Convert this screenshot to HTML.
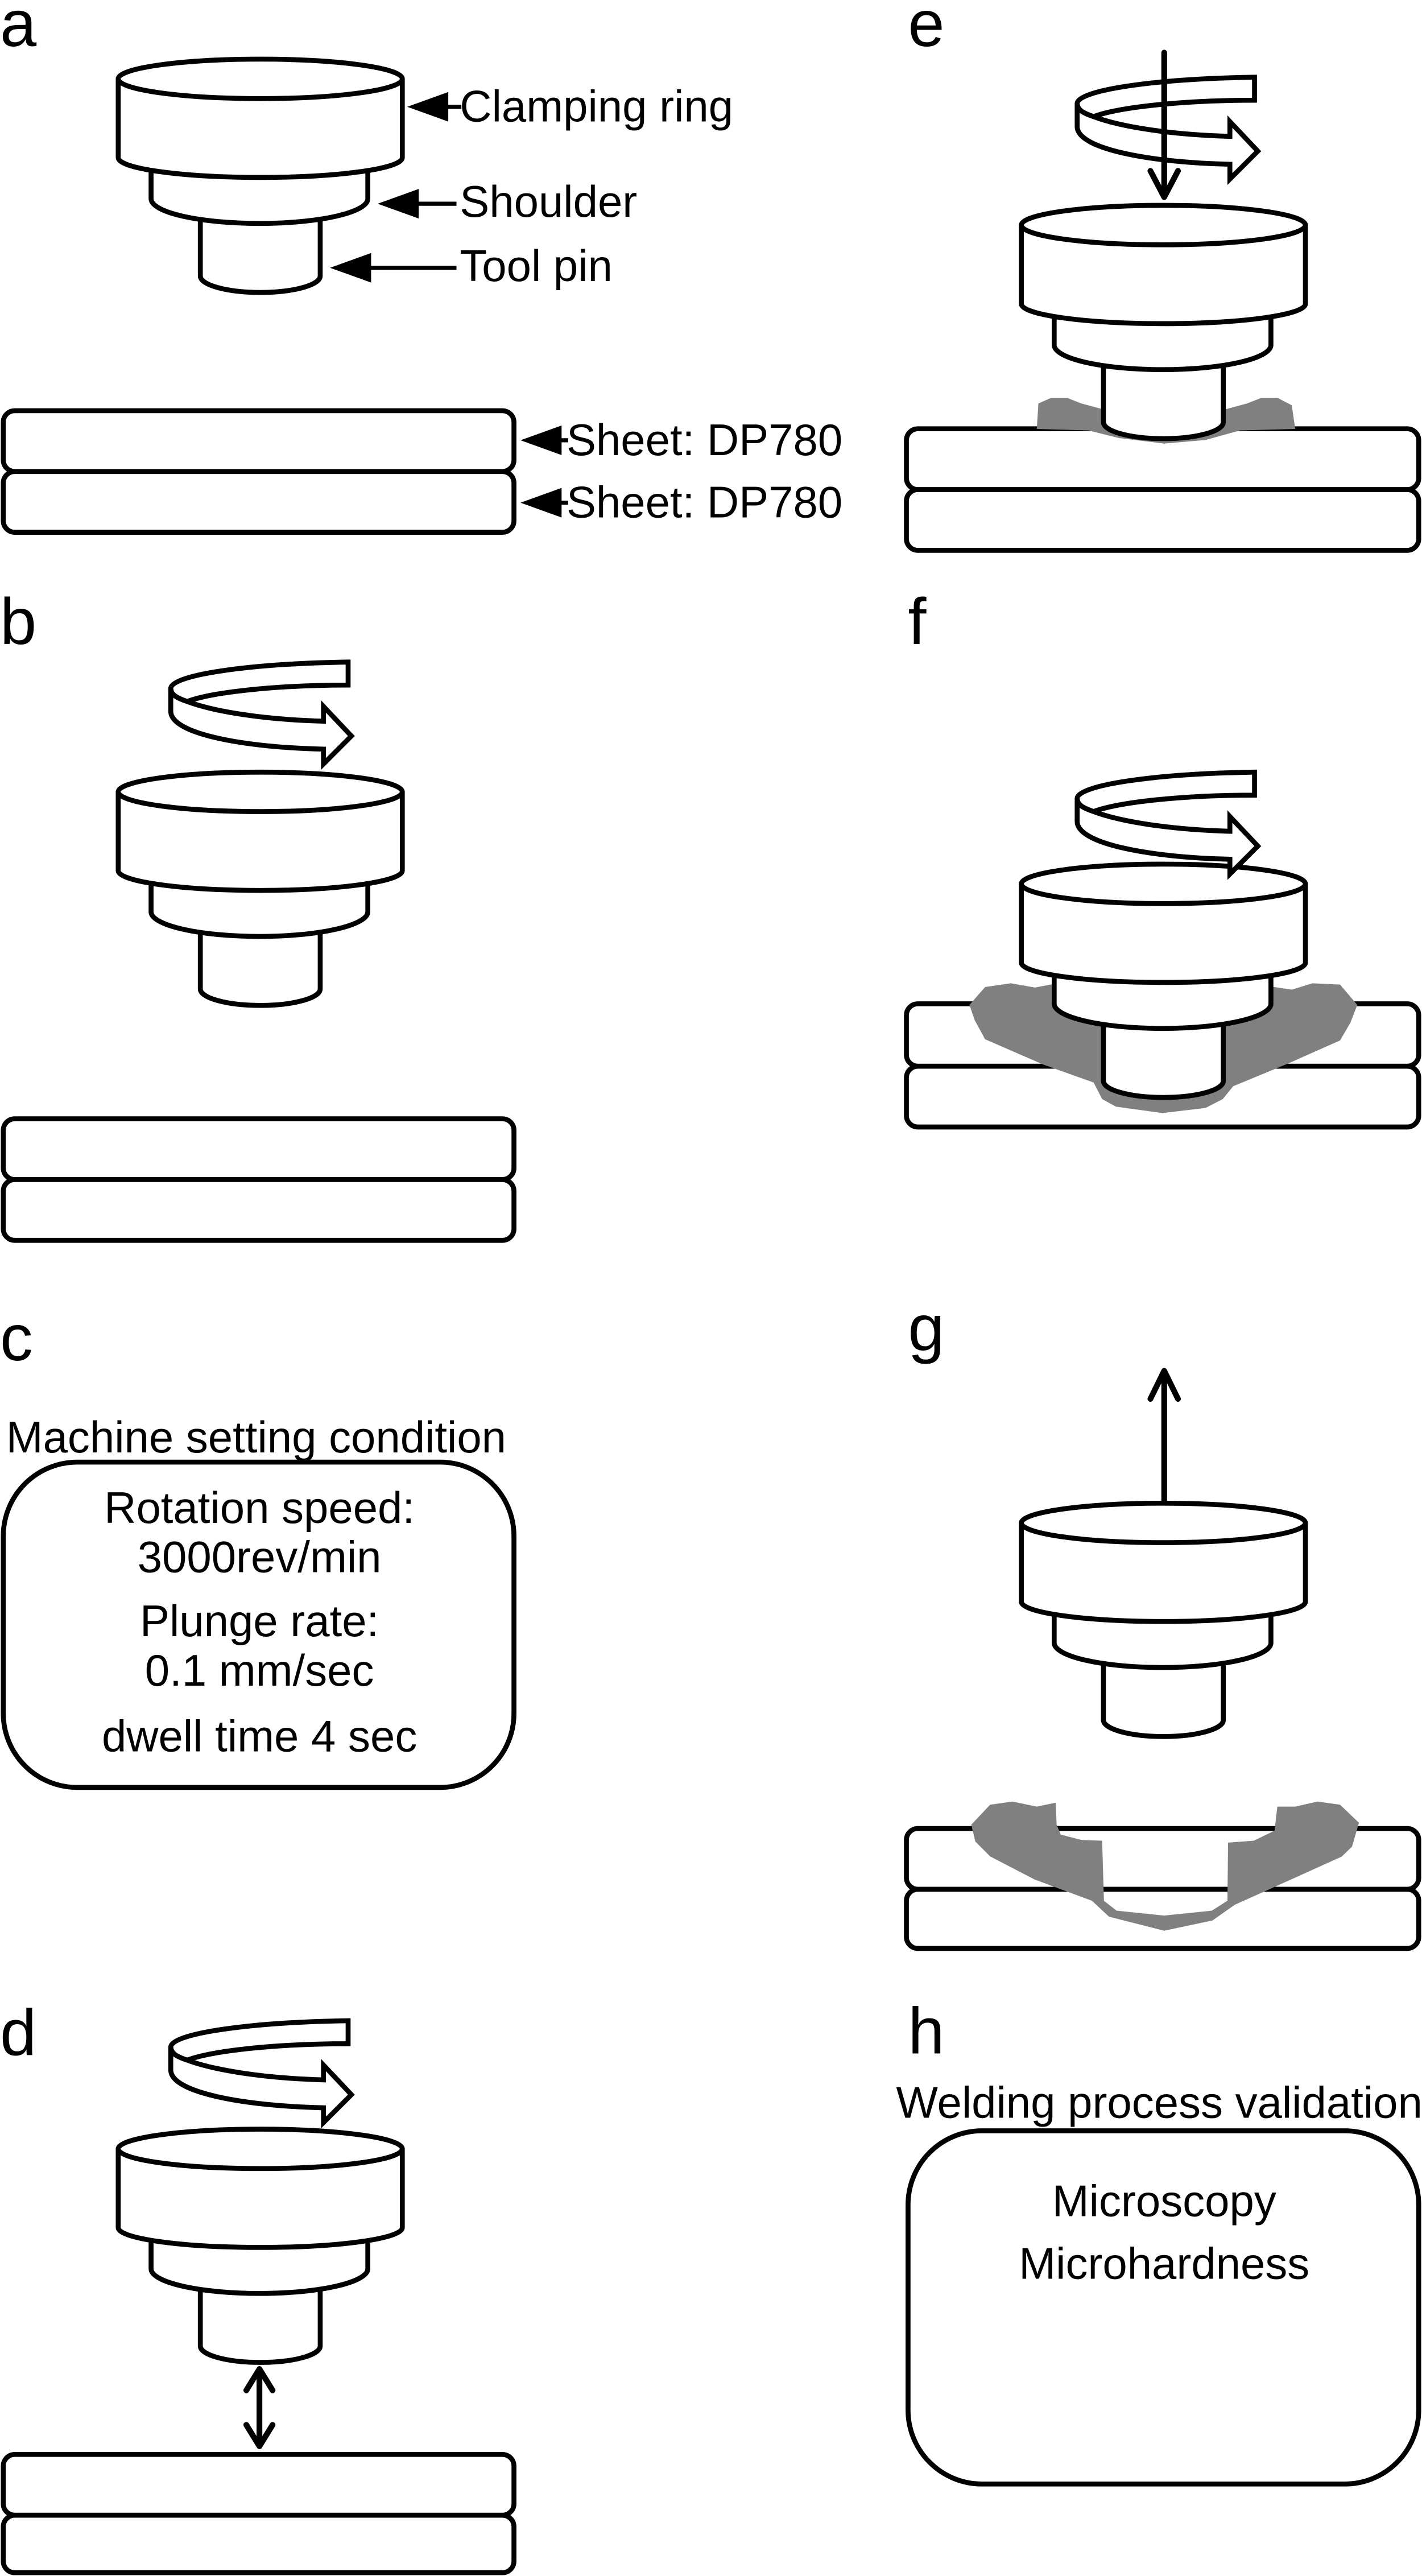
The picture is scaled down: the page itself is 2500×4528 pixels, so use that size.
<!DOCTYPE html>
<html><head><meta charset="utf-8"><style>
html,body{margin:0;padding:0;background:#fff;}
svg{display:block;}
text{font-family:"Liberation Sans",Arial,sans-serif;fill:#000;}
</style></head><body>
<svg xmlns="http://www.w3.org/2000/svg" width="2500" height="4528" viewBox="0 0 866 1568" preserveAspectRatio="none">
<defs>
<g id="tool" fill="#fff" stroke="#000" stroke-width="3" stroke-linejoin="round">
  <path d="M122,80 L122,120 A36.5,10 0 0 0 195,120 L195,80 Z"/>
  <path d="M92,50 L92,73 A66,15 0 0 0 224,73 L224,50 Z"/>
  <path d="M72,0 L72,48 A86.5,12 0 0 0 245,48 L245,0 Z"/>
  <ellipse cx="158.5" cy="0" rx="86.5" ry="12"/>
</g>
<g id="rot" fill="#fff" stroke="#000" stroke-width="3" stroke-linejoin="miter">
  <path d="M212,0 C150,1 104,8 104,16 C104,20 108,22 114,24 C130,18 170,14 212,14 Z"/>
  <path d="M104,16 C104,20 108,22 114,24 C130,30 160,35 197,36 L197,27 L214,45 L197,62 L197,53 C150,52 104,44 104,30 Z"/>
</g>
</defs>

<g font-size="40">
<text x="0" y="28">a</text>
<text x="0" y="392">b</text>
<text x="0" y="828">c</text>
<text x="0" y="1251">d</text>
<text x="553" y="28">e</text>
<text x="553" y="392">f</text>
<text x="553" y="822">g</text>
<text x="553" y="1250">h</text>
</g>

<g fill="#fff" stroke="#000" stroke-width="3">
<rect x="2" y="250" width="311" height="37" rx="7"/>
<rect x="2" y="287" width="311" height="37" rx="7"/>
<rect x="2" y="681" width="311" height="37" rx="7"/>
<rect x="2" y="718" width="311" height="37" rx="7"/>
<rect x="2" y="1494" width="311" height="37" rx="7"/>
<rect x="2" y="1531" width="311" height="35" rx="7"/>
<rect x="552" y="261" width="312" height="37" rx="7"/>
<rect x="552" y="298" width="312" height="37" rx="7"/>
<rect x="552" y="611" width="312" height="38" rx="7"/>
<rect x="552" y="649" width="312" height="37" rx="7"/>
<rect x="552" y="1113" width="312" height="37" rx="7"/>
<rect x="552" y="1150" width="312" height="36" rx="7"/>
</g>

<g fill="#808080">
<polygon points="631.4,261.1 632.4,245.6 639.8,242.3 650.2,242.3 658.6,245.6 671.2,249 746.8,249 759.4,245.6 767.8,242.3 778.3,242.3 786.7,246.7 788.8,261.1 755.2,262 734.2,267.8 709,270 681.7,266.7 662.8,262"/>
<polygon points="590.4,611.7 599.9,600.8 615.6,598.5 630.3,601.1 641.9,598.9 776.2,600.8 786.7,602.4 799.3,598.5 816.1,599.3 826.6,611.7 822.4,622.5 816.1,633.3 784.6,647.3 751,661.2 744.7,669 734.2,674.4 708,677.5 679.6,673.6 671.2,669 666,658.9 635.6,648.1 599.9,632.6 593.6,621"/>
<polygon points="591.5,1110.7 603,1098.5 616.7,1096.6 631.4,1099.7 642.9,1097.3 643.5,1110.7 646,1116.7 658.6,1120 671.2,1120.4 672.3,1157 680,1163 709,1166 738,1163 747.5,1157 747.9,1121.6 763.6,1120.4 776.2,1114.3 777.9,1099.7 788.8,1099.7 802.4,1096.6 816.1,1098.5 827.6,1109.5 823.4,1124 817.1,1130.1 784.6,1144.8 752,1159.4 738.4,1169 709,1175.2 675.4,1166.7 665,1157 630,1144 603,1130 594,1121"/>
</g>

<use href="#tool" transform="translate(0,48)"/>
<use href="#tool" transform="translate(0,482)"/>
<use href="#tool" transform="translate(0,1308)"/>
<use href="#tool" transform="translate(550,137)"/>
<use href="#tool" transform="translate(550,538)"/>
<use href="#tool" transform="translate(550,927)"/>

<use href="#rot" transform="translate(0,403)"/>
<use href="#rot" transform="translate(0,1230)"/>
<use href="#rot" transform="translate(552,47)"/>
<use href="#rot" transform="translate(552,470)"/>

<g stroke="#000" stroke-width="3.5" fill="none" stroke-linecap="round" stroke-linejoin="round">
<line x1="709" y1="32" x2="709" y2="118"/>
<polyline points="700.6,104 709,120 717.4,104"/>
<line x1="709" y1="914" x2="709" y2="836"/>
<polyline points="700.6,851.5 709,834.4 717.4,851.5"/>
<line x1="158" y1="1442" x2="158" y2="1489"/>
<polyline points="150,1455 158,1442 166,1455"/>
<polyline points="150,1476 158,1489 166,1476"/>
</g>

<g stroke="#000" stroke-width="2.5">
<line x1="270" y1="65" x2="281" y2="65"/>
<line x1="252" y1="124" x2="278" y2="124"/>
<line x1="223" y1="163" x2="278" y2="163"/>
<line x1="338" y1="268" x2="346" y2="268"/>
<line x1="338" y1="306" x2="346" y2="306"/>
</g>
<g fill="#000">
<polygon points="248,65 273,56 273,74"/>
<polygon points="230,124 255,115 255,133"/>
<polygon points="201,163 226,154 226,172"/>
<polygon points="317,268 342,259 342,277"/>
<polygon points="317,306 342,297 342,315"/>
</g>
<g font-size="27">
<text x="280" y="74">Clamping ring</text>
<text x="280" y="132">Shoulder</text>
<text x="280" y="171">Tool pin</text>
<text x="345" y="277">Sheet: DP780</text>
<text x="345" y="315">Sheet: DP780</text>
</g>

<text x="156" y="884" font-size="27" text-anchor="middle">Machine setting condition</text>
<rect x="2" y="890" width="311" height="198" rx="45" fill="none" stroke="#000" stroke-width="3"/>
<g font-size="27" text-anchor="middle">
<text x="158" y="927">Rotation speed:</text>
<text x="158" y="957">3000rev/min</text>
<text x="158" y="996">Plunge rate:</text>
<text x="158" y="1026">0.1 mm/sec</text>
<text x="158" y="1066">dwell time 4 sec</text>
</g>

<text x="706" y="1289" font-size="27" text-anchor="middle">Welding process validation</text>
<rect x="553" y="1297" width="311" height="215" rx="45" fill="none" stroke="#000" stroke-width="3"/>
<g font-size="27" text-anchor="middle">
<text x="709" y="1349">Microscopy</text>
<text x="709" y="1387">Microhardness</text>
</g>
</svg>
</body></html>
